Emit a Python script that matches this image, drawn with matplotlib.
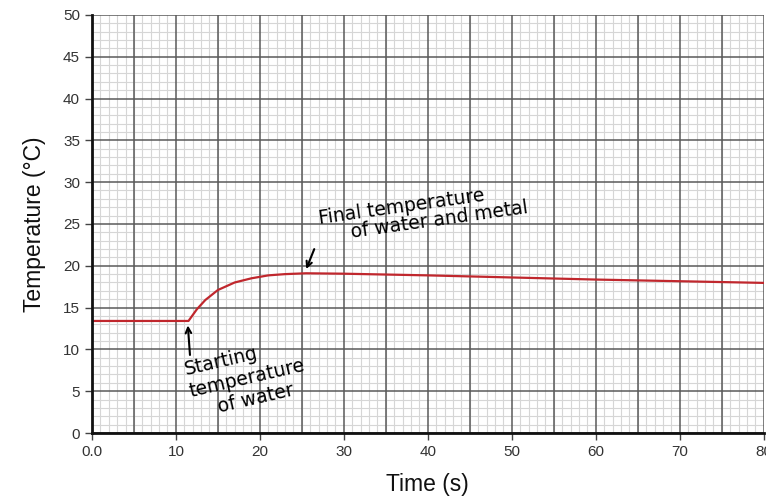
import matplotlib.pyplot as plt
import numpy as np
from matplotlib.ticker import MultipleLocator

plt.rcParams['font.family'] = ['Liberation Sans', 'DejaVu Sans']

# temperature readings
time_s = [0, 11.5, 12.5, 13.5, 15, 17, 19, 21, 23, 25.5, 30, 40, 50, 60, 70, 80]
temp_c = [13.4, 13.4, 14.8, 15.9, 17.1, 18.0, 18.5, 18.85, 19.0, 19.1, 19.05, 18.85, 18.6, 18.35, 18.15, 17.95]

x_ticks = [0, 10, 20, 30, 40, 50, 60, 70, 80]
x_labels = ['0.0', '10', '20', '30', '40', '50', '60', '70', '80']
y_ticks = [0, 5, 10, 15, 20, 25, 30, 35, 40, 45, 50]

fig = plt.figure(figsize=(7.66, 4.96), dpi=100)
ax = fig.add_axes([0.120, 0.127, 0.877, 0.843])
ax.set_axisbelow(True)

ax.set_xlim(0, 80)
ax.set_ylim(0, 50)

# graph paper grid
ax.xaxis.set_minor_locator(MultipleLocator(1))
ax.yaxis.set_minor_locator(MultipleLocator(1))
ax.grid(which='minor', color='#d6d6d6', lw=0.8)
for v in np.arange(0, 81, 5):
    ax.axvline(v, color='#5a5a5a', lw=1.1, zorder=2)
for v in np.arange(0, 51, 5):
    ax.axhline(v, color='#5a5a5a', lw=1.1, zorder=2)

ax.plot(time_s, temp_c, color='#c0272d', lw=1.6, zorder=3)

ax.set_xticks(x_ticks)
ax.set_xticklabels(x_labels)
ax.set_yticks(y_ticks)
ax.tick_params(which='minor', length=0)
ax.tick_params(which='major', length=5, width=1, color='#444444',
               labelsize=11, labelcolor='#333333')

for s in ['top', 'right']:
    ax.spines[s].set_visible(False)
for s in ['left', 'bottom']:
    ax.spines[s].set_linewidth(2)
    ax.spines[s].set_color('#111111')
    ax.spines[s].set_zorder(4)

ax.set_xlabel('Time (s)', fontsize=16.5, color='#111111', labelpad=10)
ax.set_ylabel('Temperature (°C)', fontsize=16.5, color='#111111', labelpad=12)

hand = dict(fontsize=13.5, color='black', family='DejaVu Sans')

ax.annotate('', xy=(25.4, 19.3), xytext=(26.6, 22.3),
            arrowprops=dict(arrowstyle='->', color='black', lw=1.5), zorder=4)
ax.text(26.8, 22.4, 'Final temperature\n     of water and metal', rotation=8,
        ha='left', va='bottom', linespacing=0.95, zorder=4, **hand)

ax.annotate('', xy=(11.4, 13.2), xytext=(11.7, 9.0),
            arrowprops=dict(arrowstyle='->', color='black', lw=1.5), zorder=4)
ax.text(10.8, 1.3, 'Starting\ntemperature\n    of water', rotation=13,
        ha='left', va='bottom', linespacing=1.2, zorder=4, **hand)

fig.savefig('out.png', dpi=100)
